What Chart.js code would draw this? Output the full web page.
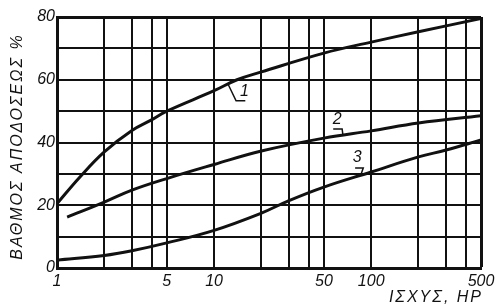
<!DOCTYPE html>
<html>
<head>
<meta charset="utf-8">
<script src="https://cdn.jsdelivr.net/npm/chart.js@4"></script>
<style>
  html, body { margin: 0; padding: 0; background: #fff; }
  #wrap { width: 503px; height: 308px; }
</style>
</head>
<body>
<div id="wrap"><canvas id="c"></canvas></div>
<script>
// curve 1
var x1 = [1, 1.4, 2, 3, 4, 5, 10, 14, 20, 50, 100, 200, 500]
var y1 = [20.5, 29, 37, 43.8, 47.2, 50, 56.5, 60, 62.5, 68.5, 72, 75.3, 79.5]
// curve 2
var x2 = [1.16, 2, 3, 5, 10, 20, 50, 100, 200, 500]
var y2 = [16.2, 21, 24.8, 28.5, 33, 37.3, 41.4, 43.7, 46.2, 48.5]
// curve 3
var x3 = [1, 2, 3, 5, 10, 20, 30, 50, 100, 200, 300, 500]
var y3 = [2.5, 4, 5.5, 8, 12, 17.5, 21.5, 25.8, 30.6, 35.4, 37.6, 40.8]

var xGrid = [1, 2, 3, 4, 5, 10, 20, 30, 40, 50, 100, 200, 300, 400, 500]
var xLabels = [1, 5, 10, 50, 100, 500]
var yLabels = [0, 20, 40, 60, 80]

var yTitle = "ΒΑΘΜΟΣ ΑΠΟΔΟΣΕΩΣ %"
var xTitle = "ΙΣΧΥΣ, HP"

// curve names + leader lines, in data units
var curveNames = ["1", "2", "3"]
var nameAt = [[15.6, 53.6], [60.7, 44.8], [81.5, 32.7]]
var leaders = [
  [[12.3, 58.5], [13.8, 53.3], [15.8, 53.3]],
  [[57.3, 44.3], [65.3, 44.3], [66, 42.6]],
  [[79, 31.9], [89, 31.9], [86, 29.7]]
]

function pts(xs, ys){
  return xs.map(function(v, i){ return {x: v, y: ys[i]} })
}

var ink = "#111"
var fam = "'Liberation Sans', Arial, sans-serif"

var extraText = {
  id: "extraText",
  afterDatasetsDraw: function(chart){
    var ctx = chart.ctx
    var sx = chart.scales.x, sy = chart.scales.y
    var area = chart.chartArea
    ctx.save()
    ctx.strokeStyle = ink
    ctx.lineWidth = 1.5
    leaders.forEach(function(l){
      ctx.beginPath()
      l.forEach(function(p, i){
        var px = sx.getPixelForValue(p[0]), py = sy.getPixelForValue(p[1])
        if(i == 0) ctx.moveTo(px, py)
        else ctx.lineTo(px, py)
      })
      ctx.stroke()
    })
    ctx.fillStyle = ink
    ctx.font = "italic 16px " + fam
    ctx.textAlign = "center"
    ctx.textBaseline = "bottom"
    curveNames.forEach(function(n, i){
      ctx.fillText(n, sx.getPixelForValue(nameAt[i][0]), sy.getPixelForValue(nameAt[i][1]))
    })

    // axis titles, letter spaced like the original
    ctx.letterSpacing = "2px"
    ctx.textBaseline = "middle"
    ctx.textAlign = "right"
    ctx.fillText(xTitle, area.right + 2, 298)
    ctx.translate(18, (area.top + area.bottom) / 2 + 4)
    ctx.rotate(-Math.PI / 2)
    ctx.textAlign = "center"
    ctx.fillText(yTitle, 0, 0)
    ctx.restore()
  }
}

function ds(data){
  return {
    data: data,
    borderColor: ink,
    borderWidth: 3,
    pointRadius: 0,
    fill: false,
    tension: 0.4
  }
}

new Chart(document.getElementById("c"), {
  type: "line",
  data: {
    datasets: [ds(pts(x1, y1)), ds(pts(x2, y2)), ds(pts(x3, y3))]
  },
  options: {
    responsive: true,
    maintainAspectRatio: false,
    animation: false,
    layout: {padding: {left: 0, right: 22, top: 17, bottom: 0}},
    plugins: {legend: {display: false}, tooltip: {enabled: false}},
    scales: {
      x: {
        type: "logarithmic",
        min: 1,
        max: 500,
        afterBuildTicks: function(scale){
          scale.ticks = xGrid.map(function(v){ return {value: v} })
        },
        afterFit: function(scale){ scale.height = 40 },
        ticks: {
          autoSkip: false,
          maxRotation: 0,
          color: ink,
          font: {family: fam, size: 16, style: "italic"},
          padding: 4,
          callback: function(v){ return xLabels.indexOf(v) >= 0 ? String(v) : "" }
        },
        grid: {
          color: ink,
          lineWidth: function(c){ return (c.tick && c.tick.value == 500) ? 3 : 2 },
          drawTicks: false
        },
        border: {color: ink, width: 3}
      },
      y: {
        min: 0,
        max: 80,
        afterFit: function(scale){ scale.width = 57 },
        ticks: {
          stepSize: 10,
          color: ink,
          font: {family: fam, size: 16, style: "italic"},
          padding: 2,
          callback: function(v){ return yLabels.indexOf(v) >= 0 ? String(v) : "" }
        },
        grid: {
          color: ink,
          lineWidth: function(c){ return (c.tick && c.tick.value == 80) ? 3 : 2 },
          drawTicks: false
        },
        border: {color: ink, width: 3}
      }
    }
  },
  plugins: [extraText]
});
</script>
</body>
</html>
